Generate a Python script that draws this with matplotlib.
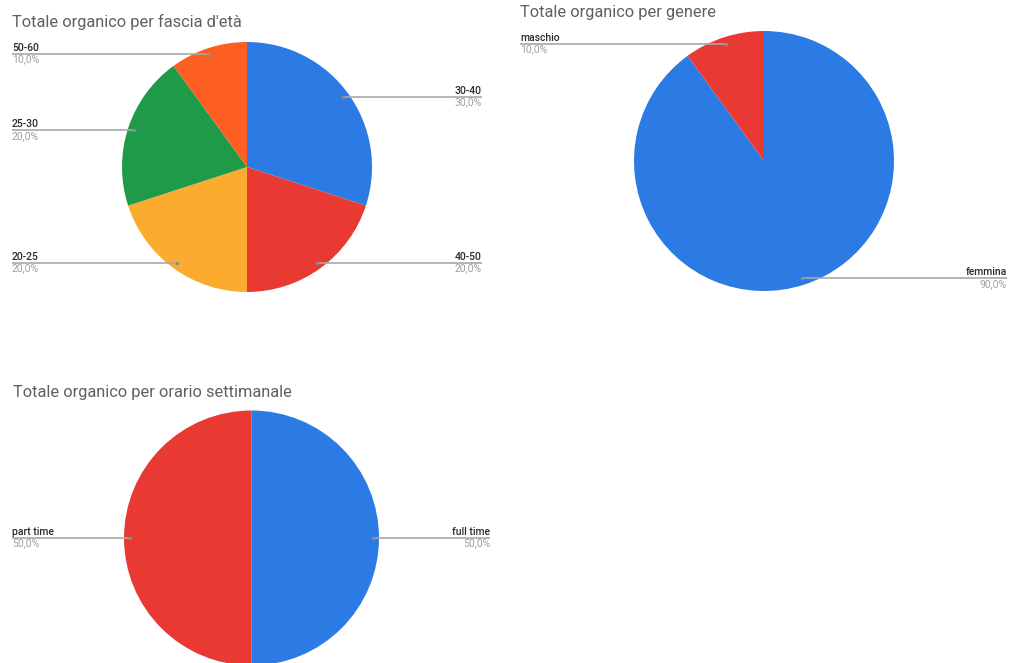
import numpy as np
import matplotlib
matplotlib.use("Agg")
import matplotlib.pyplot as plt

W, H = 1011, 663

# data
age_labels = ["30-40", "40-50", "20-25", "25-30", "50-60"]
age_values = [30, 20, 20, 20, 10]
age_colors = ["#2c7be5", "#e83a32", "#fbab2e", "#1f9a49", "#fc5f21"]

gender_labels = ["femmina", "maschio"]
gender_values = [90, 10]
gender_colors = ["#2c7be5", "#e83a32"]

hours_labels = ["full time", "part time"]
hours_values = [50, 50]
hours_colors = ["#2c7be5", "#e83a32"]

# layout in pixels (x, y from top-left)
charts = [
    dict(title="Totale organico per fascia d'età", title_xy=(12, 22),
         center=(247, 167), radius=125, left_x=12, right_x=482,
         labels=age_labels, values=age_values, colors=age_colors),
    dict(title="Totale organico per genere", title_xy=(520, 12),
         center=(764, 161), radius=130, left_x=520, right_x=1007,
         labels=gender_labels, values=gender_values, colors=gender_colors),
    dict(title="Totale organico per orario settimanale", title_xy=(13, 392),
         center=(251.5, 538), radius=127.5, left_x=12, right_x=490,
         labels=hours_labels, values=hours_values, colors=hours_colors),
]

fig = plt.figure(figsize=(W / 100, H / 100), dpi=100)
ax = fig.add_axes([0, 0, 1, 1])

line_color = "#a8a8a8"
for ch in charts:
    cx, cy = ch["center"][0], H - ch["center"][1]
    r = ch["radius"]
    wedges, _ = ax.pie(ch["values"], colors=ch["colors"], startangle=90,
                       counterclock=False, center=(cx, cy), radius=r,
                       wedgeprops=dict(linewidth=0))
    total = sum(ch["values"])
    for w, lab, val in zip(wedges, ch["labels"], ch["values"]):
        mid = np.deg2rad((w.theta1 + w.theta2) / 2)
        dx, dy = cx + 0.95 * r * np.cos(mid), cy + 0.95 * r * np.sin(mid)
        if np.cos(mid) >= 0:
            ex, ha = ch["right_x"], "right"
        else:
            ex, ha = ch["left_x"], "left"
        ax.plot([dx, ex], [dy, dy], color=line_color, lw=1.2,
                solid_capstyle="butt", zorder=3)
        ax.plot(dx, dy, "o", ms=2.5, color="#8a8a8a", mec="none", zorder=4)
        ax.text(ex, dy + 6, lab, ha=ha, va="center", fontsize=7.5,
                color="#2a2a2a", family="Roboto", fontweight="medium")
        pct = f"{100 * val / total:.1f}%".replace(".", ",")
        ax.text(ex, dy - 5.5, pct, ha=ha, va="center", fontsize=7.5,
                color="#a0a0a0", family="Roboto")
    tx, ty = ch["title_xy"]
    ax.text(tx, H - ty, ch["title"], ha="left", va="center", fontsize=11.8,
            color="#5f5f5f", family="Roboto")

ax.set_xlim(0, W)
ax.set_ylim(0, H)
ax.set_aspect("equal", adjustable="box")
ax.axis("off")

fig.savefig("out.png", dpi=100, facecolor="white")
